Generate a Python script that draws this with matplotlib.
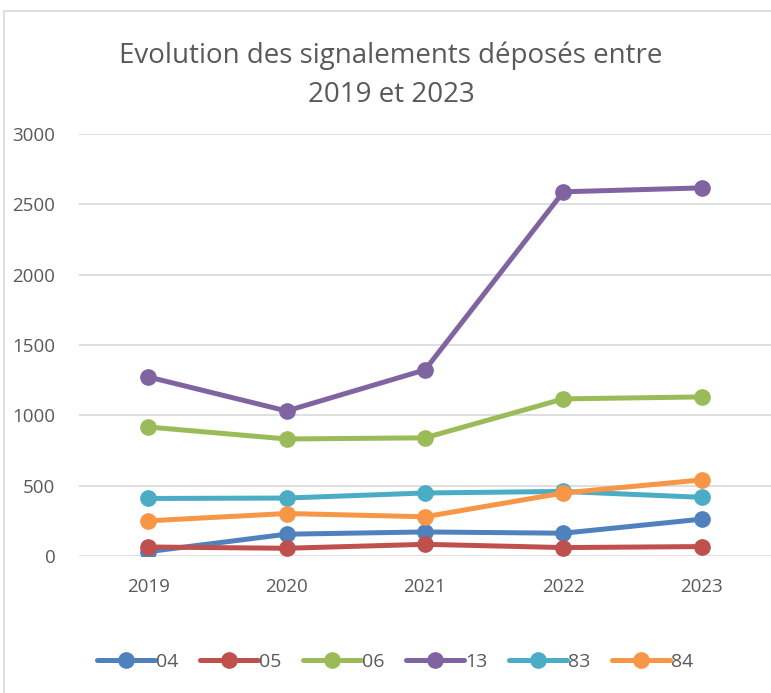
import matplotlib.pyplot as plt
from matplotlib.patches import Rectangle

years = ["2019", "2020", "2021", "2022", "2023"]
s04 = [31, 155, 171, 162, 262]
s05 = [64, 55, 83, 60, 67]
s06 = [917, 832, 840, 1117, 1131]
s13 = [1273, 1031, 1323, 2589, 2617]
s83 = [409, 412, 448, 459, 417]
s84 = [250, 302, 279, 448, 541]

series = [("04", s04, "#4F81BD"), ("05", s05, "#C0504D"), ("06", s06, "#9BBB59"),
          ("13", s13, "#8064A2"), ("83", s83, "#4BACC6"), ("84", s84, "#F79646")]

plt.rcParams['font.family'] = ['Open Sans', 'DejaVu Sans']
txt = "#595959"

fig = plt.figure(figsize=(7.71, 6.93), dpi=100)
fig.patches.append(Rectangle((4 / 771, -0.1), 1.2, 1.1 - 11 / 693, transform=fig.transFigure,
                             fill=False, edgecolor="#d9d9d9", linewidth=1.2))
ax = fig.add_axes([79 / 771, 137 / 693, 692 / 771, 422 / 693])

x = range(len(years))
for name, vals, col in series:
    ax.plot(x, vals, color=col, lw=3.6, marker="o", ms=11, label=name, solid_capstyle="round")

ax.set_xlim(-0.5, 4.5)
ax.set_ylim(0, 3000)
ax.set_yticks(range(0, 3001, 500))
ax.set_xticks(list(x))
ax.set_xticklabels(years)
ax.grid(axis="y", color="#d9d9d9", lw=1.2)
ax.set_axisbelow(True)
for sp in ax.spines.values():
    sp.set_visible(False)
ax.tick_params(length=0, labelsize=13.5, colors=txt)
ax.tick_params(axis="x", pad=16)
ax.tick_params(axis="y", pad=17)

fig.text(391 / 771, 1 - 75 / 693, "Evolution des signalements déposés entre\n2019 et 2023",
         ha="center", va="center", fontsize=20, color=txt, linespacing=1.5)

fig.legend(loc="center", bbox_to_anchor=(395 / 771, 1 - 662 / 693), ncol=6, frameon=False,
           fontsize=14, labelcolor=txt, handlelength=3.0, handletextpad=0.05, columnspacing=1.1)

fig.savefig("out.png", dpi=100)
